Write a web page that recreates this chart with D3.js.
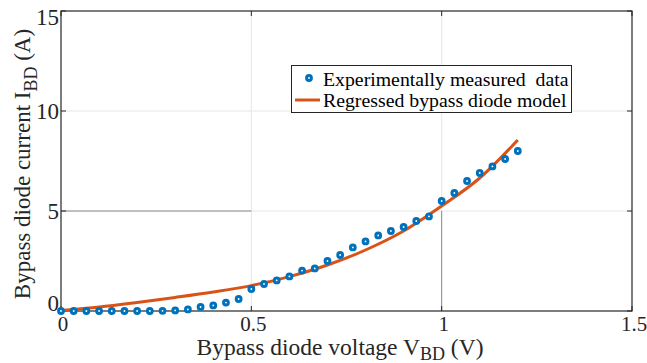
<!DOCTYPE html>
<html><head><meta charset="utf-8">
<script src="https://cdn.jsdelivr.net/npm/d3@7"></script>
<style>body{margin:0;background:#fff}svg{display:block}</style>
</head><body>
<svg id="c" width="647" height="363" font-family="Liberation Serif, Times New Roman, serif"></svg>
<script>
// Measured data: voltage (V) and current (A)
const measV = d3.range(37).map(i => i / 30);
const measI = [0,0,0,0,0,0,0,0,0.01,0.03,0.08,0.2,0.28,0.42,0.6,1.1,1.35,1.53,1.73,2.02,2.13,2.5,2.8,3.18,3.48,3.78,4.0,4.2,4.5,4.73,5.5,5.9,6.5,6.9,7.23,7.6,8.0];
// Regressed model curve samples
const modelV = [0,0.1,0.2,0.3,0.4,0.5,0.6,0.7,0.8,0.9,1.0,1.1,1.2];
const modelI = [0.02,0.2,0.43,0.68,0.95,1.27,1.72,2.3,3.05,4.0,5.25,6.65,8.55];
const xTicks = [0,0.5,1,1.5];
const xTickLabels = ["0","0.5","1","1.5"];
const yTicks = [0,5,10,15];
const yTickLabels = ["0","5","10","15"];
const legendLabels = ["Experimentally measured\u00a0 data","Regressed bypass diode model"];

const FF = "'Liberation Serif', 'Times New Roman', serif";
const svg = d3.select("#c");
const L=61,R=632,T=11,B=311;
const x = d3.scaleLinear().domain([0,1.5]).range([L,R]);
const y = d3.scaleLinear().domain([0,15]).range([B,T]);
const axisCol="#262626";

// grid
const g = svg.append("g");
xTicks.filter(v=>v>0&&v<1.5).forEach(v=>g.append("line").attr("x1",x(v)).attr("x2",x(v)).attr("y1",T).attr("y2",B).attr("stroke","#e6e6e6").attr("stroke-width",1));
yTicks.filter(v=>v>0&&v<15).forEach(v=>g.append("line").attr("y1",y(v)).attr("y2",y(v)).attr("x1",L).attr("x2",R).attr("stroke","#e6e6e6").attr("stroke-width",1));
// darker grid segments seen in reference
g.append("line").attr("x1",x(0)).attr("x2",x(0.5)).attr("y1",y(5)).attr("y2",y(5)).attr("stroke","#8c8c8c");
g.append("line").attr("x1",x(1)).attr("x2",x(1)).attr("y1",y(0)).attr("y2",y(5)).attr("stroke","#8c8c8c");

// axes box with inward ticks
const ax = svg.append("g").attr("stroke",axisCol).attr("fill","none");
ax.append("rect").attr("x",L).attr("y",T).attr("width",R-L).attr("height",B-T).attr("stroke-width",1.2);
const tl=5;
xTicks.forEach(v=>{
  ax.append("line").attr("x1",x(v)).attr("x2",x(v)).attr("y1",B).attr("y2",B-tl);
  ax.append("line").attr("x1",x(v)).attr("x2",x(v)).attr("y1",T).attr("y2",T+tl);
});
yTicks.forEach(v=>{
  ax.append("line").attr("y1",y(v)).attr("y2",y(v)).attr("x1",L).attr("x2",L+tl);
  ax.append("line").attr("y1",y(v)).attr("y2",y(v)).attr("x1",R).attr("x2",R-tl);
});

// tick labels
xTicks.forEach((v,i)=>svg.append("text").attr("font-family",FF).attr("x",x(v)+2).attr("y",B+20).attr("text-anchor","middle").attr("font-size",21).attr("fill","#262626").text(xTickLabels[i]));
yTicks.forEach((v,i)=>{
  let dy = 8;
  if (v===15) dy = 14;
  if (v===0) dy = 0;
  svg.append("text").attr("font-family",FF).attr("x",L-2).attr("y",y(v)+dy).attr("text-anchor","end").attr("font-size",23).attr("fill","#262626").text(yTickLabels[i]);
});

// axis labels
const xl = svg.append("text").attr("font-family",FF).attr("x",340).attr("y",355).attr("text-anchor","middle").attr("font-size",23.5).attr("fill","#262626");
xl.append("tspan").text("Bypass diode voltage V");
xl.append("tspan").attr("font-size",18).attr("dy",5).text("BD");
xl.append("tspan").attr("dy",-5).text(" (V)");
const yl = svg.append("text").attr("font-family",FF).attr("transform","translate(30,164) rotate(-90)").attr("text-anchor","middle").attr("font-size",23).attr("fill","#262626");
yl.append("tspan").text("Bypass diode current I");
yl.append("tspan").attr("font-size",18).attr("dy",7).text("BD");
yl.append("tspan").attr("dy",-7).text(" (A)");

// model line
const pts = modelV.map((v,i)=>[v,modelI[i]]);
svg.append("path").datum(pts).attr("fill","none").attr("stroke","#D95319").attr("stroke-width",3)
  .attr("d",d3.line().x(d=>x(d[0])).y(d=>y(d[1])).curve(d3.curveMonotoneX));

// measured dots
svg.append("g").selectAll("circle").data(measV.map((v,i)=>[v,measI[i]])).join("circle")
  .attr("cx",d=>x(d[0])).attr("cy",d=>y(d[1])).attr("r",2.4).attr("fill","#fff").attr("stroke","#0072BD").attr("stroke-width",3);

// legend
const lg = svg.append("g");
lg.append("rect").attr("x",291.5).attr("y",65.5).attr("width",280).attr("height",47).attr("fill","#fff").attr("stroke","#262626").attr("stroke-width",1);
lg.append("circle").attr("cx",309).attr("cy",78).attr("r",2.4).attr("fill","#fff").attr("stroke","#0072BD").attr("stroke-width",3);
lg.append("line").attr("x1",295).attr("x2",320).attr("y1",100).attr("y2",100).attr("stroke","#D95319").attr("stroke-width",3);
lg.append("text").attr("font-family",FF).attr("x",323).attr("y",85.5).attr("font-size",19.8).attr("fill","#000").text(legendLabels[0]);
lg.append("text").attr("font-family",FF).attr("x",323).attr("y",106.5).attr("font-size",19.8).attr("fill","#000").text(legendLabels[1]);
</script>
</body></html>
